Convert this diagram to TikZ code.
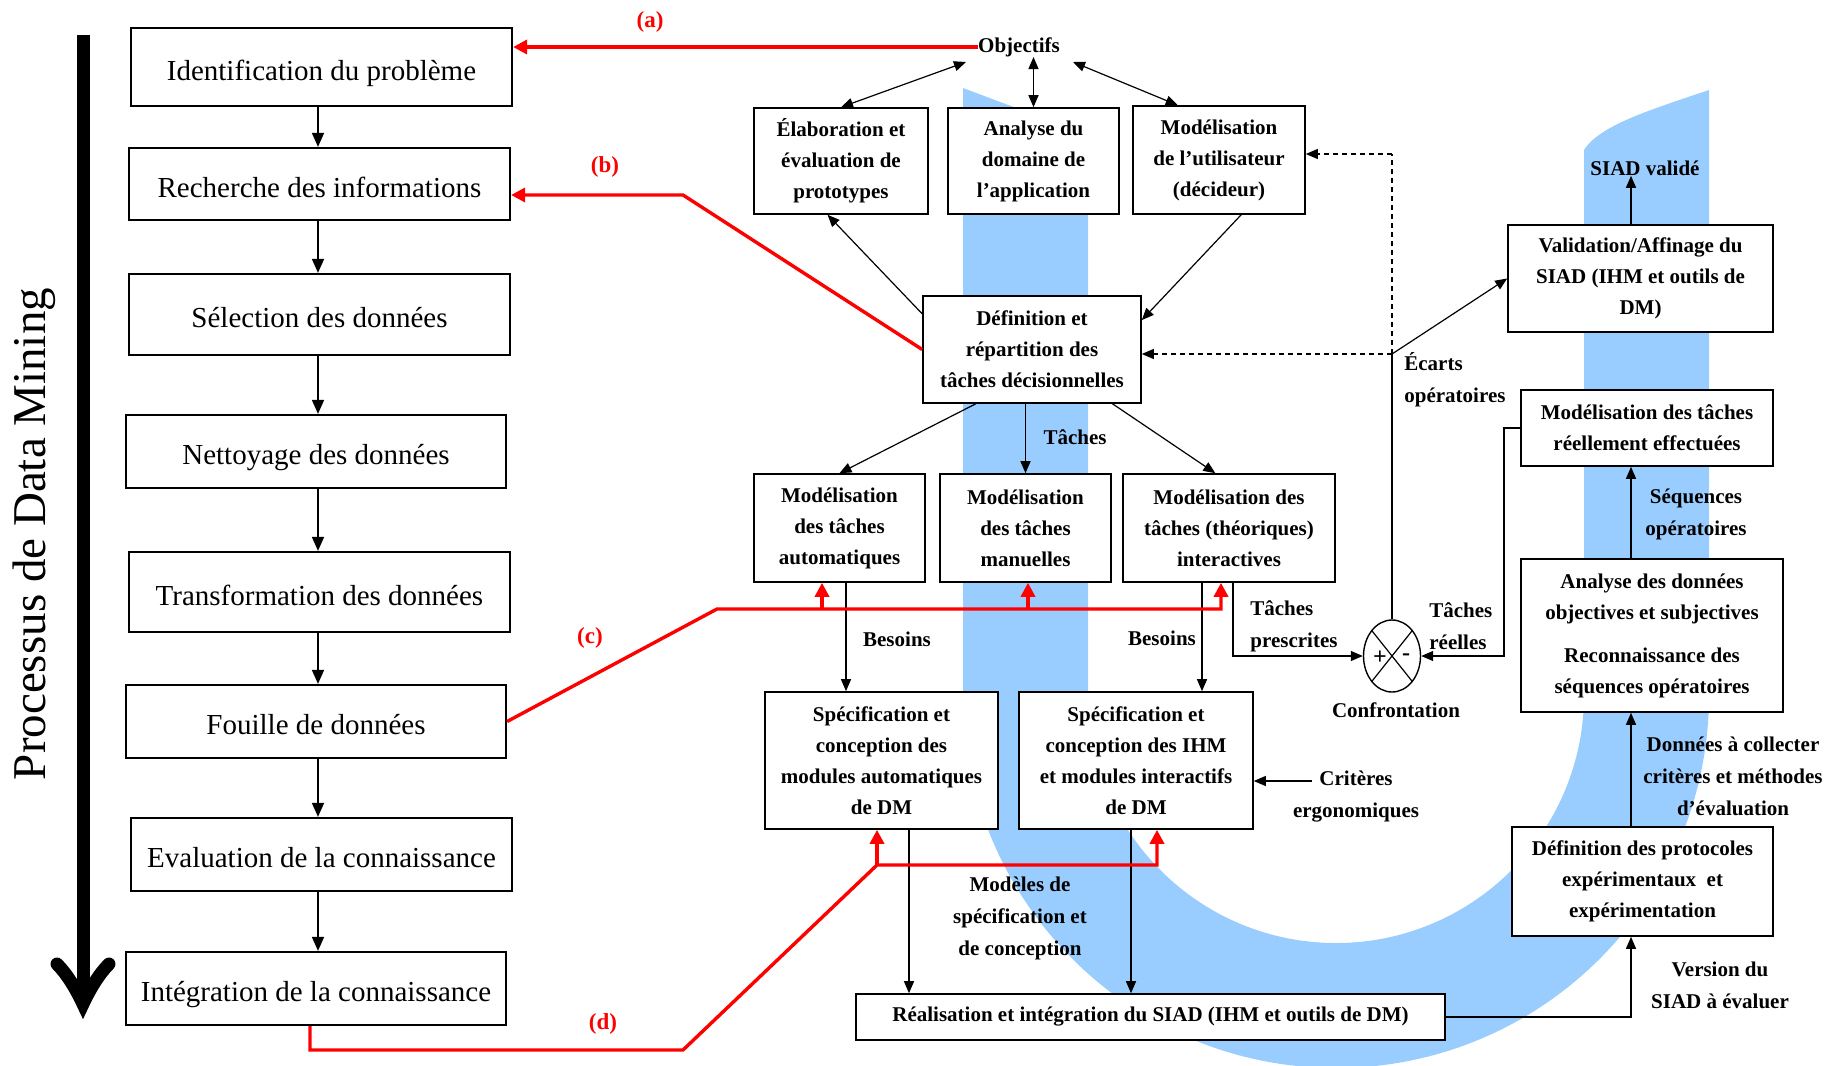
\documentclass[tikz,border=0pt]{standalone}
\usepackage{fontspec}
\setmainfont{Liberation Serif}
\usetikzlibrary{arrows.meta,shapes.geometric}
\definecolor{bandblue}{RGB}{153,204,255}
\definecolor{redline}{RGB}{255,0,0}
\begin{document}
\begin{tikzpicture}[x=0.5pt,y=-0.5pt,
 lbox/.style={draw, line width=1.1pt, fill=white, inner sep=0pt, text height=14pt, text depth=0.8pt, font=\fontsize{14.5}{17}\selectfont},
 rbox/.style={draw, line width=0.8pt, fill=white, inner sep=0pt, align=center, font=\fontsize{10.5}{15.5}\selectfont\bfseries},
 lbl/.style={inner sep=0pt, align=center, font=\fontsize{10.5}{16}\selectfont\bfseries},
 redlbl/.style={inner sep=0pt, text=redline, font=\fontsize{11.5}{14}\selectfont\bfseries},
 larr/.style={line width=0.8pt, -{Triangle[length=7pt,width=6pt]}},
 arr/.style={line width=0.6pt, -{Triangle[length=6pt,width=5pt]}},
 darr/.style={line width=0.6pt, {Triangle[length=6pt,width=5pt]}-{Triangle[length=6pt,width=5pt]}},
 dashedline/.style={line width=0.6pt, dash pattern=on 2.5pt off 2pt},
 redl/.style={draw=redline, line width=1.7pt},
 redarr/.style={redl, -{Triangle[length=7pt,width=7pt]}},
]
\useasboundingbox (0,0) rectangle (1843,1066);

% blue U band
\begin{scope}
\clip (0,0) rectangle (1843,1066);
\fill[bandblue] (963,88) -- (963,695) arc[start angle=180,end angle=0,radius=373]
  -- (1709,90) .. controls (1650,110) and (1600,125) .. (1584,150)
  -- (1584,695) arc[start angle=0,end angle=180,radius=248]
  -- (1088,135) -- cycle;
\end{scope}

% title and big arrow
\node[rotate=90, inner sep=0pt, font=\fontsize{23.5}{27}\selectfont] (title) at (34,534) {Processus de Data Mining};
\coordinate (bartop) at (83,35);
\coordinate (bartip) at (83,1004);
\draw[line width=6.5pt] (bartop) -- (83,995);
\draw[line width=6.5pt, line cap=round, line join=miter] (57,964) .. controls (67,974) and (76,989) .. (bartip) .. controls (90,989) and (99,974) .. (109,964);

% left column
\node[lbox, minimum width=190.5pt, minimum height=39pt] (ident) at (321.5,67) {Identification du problème};
\node[lbox, minimum width=190.5pt, minimum height=36pt] (rech) at (319.5,184) {Recherche des informations};
\node[lbox, minimum width=190.5pt, minimum height=40.5pt] (sel) at (319.5,314.5) {Sélection des données};
\node[lbox, minimum width=190pt, minimum height=36.5pt] (net) at (316,451.5) {Nettoyage des données};
\node[lbox, minimum width=190.5pt, minimum height=40pt] (trans) at (319.5,592) {Transformation des données};
\node[lbox, minimum width=190pt, minimum height=36.5pt] (fouille) at (316,721.5) {Fouille de données};
\node[lbox, minimum width=190.5pt, minimum height=36.5pt] (eval) at (321.5,854.5) {Evaluation de la connaissance};
\node[lbox, minimum width=190pt, minimum height=36.5pt] (integ) at (316,988.5) {Intégration de la connaissance};

\coordinate (lx) at (318,0);
\draw[larr] (lx |- ident.south) -- (lx |- rech.north);
\draw[larr] (lx |- rech.south) -- (lx |- sel.north);
\draw[larr] (lx |- sel.south) -- (lx |- net.north);
\draw[larr] (lx |- net.south) -- (lx |- trans.north);
\draw[larr] (lx |- trans.south) -- (lx |- fouille.north);
\draw[larr] (lx |- fouille.south) -- (lx |- eval.north);
\draw[larr] (lx |- eval.south) -- (lx |- integ.north);

% right part boxes
\node[rbox, minimum width=87pt, minimum height=53pt] (elab) at (841,161) {Élaboration et\\évaluation de\\prototypes};
\node[rbox, minimum width=85.5pt, minimum height=53pt] (anal) at (1033.5,161) {Analyse du\\domaine de\\l’application};
\node[rbox, minimum width=86pt, minimum height=54pt] (modu) at (1219,160) {Modélisation\\de l’utilisateur\\(décideur)};
\node[rbox, minimum width=109pt, minimum height=53.5pt] (defi) at (1032,349.5) {Définition et\\répartition des\\tâches décisionnelles};
\node[rbox, minimum width=85.5pt, minimum height=54pt] (auto) at (839.5,528) {Modélisation\\des tâches\\automatiques};
\node[rbox, minimum width=85.5pt, minimum height=54pt] (manu) at (1025.5,528) {Modélisation\\des tâches\\manuelles};
\node[rbox, minimum width=106pt, minimum height=54pt] (inter) at (1229,528) {Modélisation des\\tâches (théoriques)\\interactives};
\node[rbox, minimum width=116.5pt, minimum height=68.5pt] (spa) at (881.5,760.5) {Spécification et\\conception des\\modules automatiques\\de DM};
\node[rbox, minimum width=117pt, minimum height=68.5pt] (spi) at (1136,760.5) {Spécification et\\conception des IHM\\et modules interactifs\\de DM};
\node[rbox, minimum width=294.5pt, minimum height=23pt] (real) at (1150.5,1017) {Réalisation et intégration du SIAD (IHM et outils de DM)};
\node[rbox, minimum width=132.5pt, minimum height=53.5pt] (valid) at (1640.5,278.5) {Validation/Affinage du\\SIAD (IHM et outils de\\DM)};
\node[rbox, minimum width=126pt, minimum height=38pt] (modr) at (1647,428) {Modélisation des tâches\\réellement effectuées};
\node[rbox, minimum width=131pt, minimum height=76.5pt] (anad) at (1652,635.5) {Analyse des données\\objectives et subjectives\\[6pt]Reconnaissance des\\séquences opératoires};
\node[rbox, minimum width=130.5pt, minimum height=54.5pt] (proto) at (1642.5,881.5) {Définition des protocoles\\expérimentaux\ \ et\\expérimentation};
\node[draw, ellipse, line width=0.7pt, fill=white, minimum width=28.5pt, minimum height=36pt, inner sep=0pt] (conf) at (1392,656) {};

% labels
\node[lbl] (obj) at (1019,47) {Objectifs};
\node[redlbl] (la) at (650,22) {(a)};
\node[redlbl] (lb) at (605,167) {(b)};
\node[redlbl] (lc) at (590,638) {(c)};
\node[redlbl] (ld) at (603,1024) {(d)};
\node[lbl] (taches) at (1075,437) {Tâches};
\node[lbl] (bes1) at (897,639) {Besoins};
\node[lbl] (bes2) at (1162,638) {Besoins};
\node[lbl, align=left, anchor=west] (tpres) at (1250,626) {Tâches\\prescrites};
\node[lbl, align=left, anchor=west] (treel) at (1429,626) {Tâches\\réelles};
\node[lbl] (conflbl) at (1396,710) {Confrontation};
\node[lbl] (crit) at (1356,797) {Critères\\ergonomiques};
\node[lbl, align=left, anchor=west] (ecarts) at (1404,380) {Écarts\\opératoires};
\node[lbl] (siadv) at (1645,168) {SIAD validé};
\node[lbl] (seq) at (1696,514) {Séquences\\opératoires};
\node[lbl] (donn) at (1733,776) {Données à collecter\\critères et méthodes\\d’évaluation};
\node[lbl] (vers) at (1720,985) {Version du\\SIAD à évaluer};
\node[lbl] (modeles) at (1020,918) {Modèles de\\spécification et\\de conception};
\node[inner sep=0pt, font=\fontsize{12}{14}\selectfont\bfseries] (plus) at (1380,658) {+};
\node[inner sep=0pt, font=\fontsize{12}{14}\selectfont\bfseries] (minus) at (1406,657) {-};

% circle cross
\draw[line width=0.6pt] (conf.north west) -- (conf.south east) (conf.north east) -- (conf.south west);

% black connectors right part
\draw[darr] (966,62) -- (elab.north);
\draw[darr] (anal.north |- obj.south) -- (anal.north);
\draw[darr] (1073,62) -- (modu.127);
\draw[arr] (defi.162) -- (elab.256);
\draw[arr] (modu.292) -- (defi.15);
\draw[arr] (defi.224) -- (auto.north);
\draw[arr] (manu.north |- defi.south) -- (manu.north);
\draw[arr] (defi.326) -- (inter.104);

\coordinate (junc) at (1392,354);
\coordinate (dtop) at (1392,154);
\draw[dashedline] (junc) -- (dtop);
\draw[dashedline, -{Triangle[length=6pt,width=5pt]}] (dtop) -- (dtop -| modu.east);
\draw[dashedline, -{Triangle[length=6pt,width=5pt]}] (junc) -- (junc -| defi.east);
\draw[line width=0.6pt] (junc) -- (conf.north);
\draw[arr] (junc) -- (valid.west);

\coordinate (tp) at (1233,656);
\draw[arr] (tp |- inter.south) -- (tp) -- (conf.west);
\coordinate (tr) at (1504,656);
\draw[arr] (modr.west) -- (tr |- modr.west) -- (tr) -- (conf.east);

\coordinate (b1) at (846,0);
\draw[arr] (b1 |- auto.south) -- (b1 |- spa.north);
\coordinate (b2) at (1202,0);
\draw[arr] (b2 |- inter.south) -- (b2 |- spi.north);
\coordinate (cr) at (1312,781);
\draw[arr] (cr) -- (cr -| spi.east);
\coordinate (s1) at (909,0);
\draw[arr] (s1 |- spa.south) -- (s1 |- real.north);
\coordinate (s2) at (1131,0);
\draw[arr] (s2 |- spi.south) -- (s2 |- real.north);
\coordinate (vx) at (1631,0);
\draw[arr] (real.east) -- (real.east -| vx) -- (vx |- proto.south);
\draw[arr] (vx |- proto.north) -- (vx |- anad.south);
\draw[arr] (vx |- anad.north) -- (vx |- modr.south);
\draw[arr] (vx |- valid.north) -- (vx |- siadv.south);

% red connectors
\draw[redarr] (obj.west) -- (obj.west -| ident.east);
\coordinate (rb) at (683,195);
\draw[redarr] (defi.west) -- (rb) -- (rb -| rech.east);
\coordinate (rc) at (717,609);
\coordinate (rc2) at (1221,609);
\draw[redarr] (fouille.east) -- (rc) -- (rc2) -- (rc2 |- inter.south);
\coordinate (rc3) at (822,609);
\draw[redarr] (rc3) -- (rc3 |- auto.south);
\coordinate (rc4) at (1028,609);
\draw[redarr] (rc4) -- (rc4 |- manu.south);
\coordinate (rd0) at (310,1050);
\coordinate (rd1) at (683,1050);
\coordinate (rd2) at (877,865);
\coordinate (rd3) at (1157,865);
\draw[redarr] (rd0 |- integ.south) -- (rd0) -- (rd1) -- (rd2) -- (rd3) -- (rd3 |- spi.south);
\draw[redarr] (rd2) -- (rd2 |- spa.south);
\end{tikzpicture}
\end{document}
